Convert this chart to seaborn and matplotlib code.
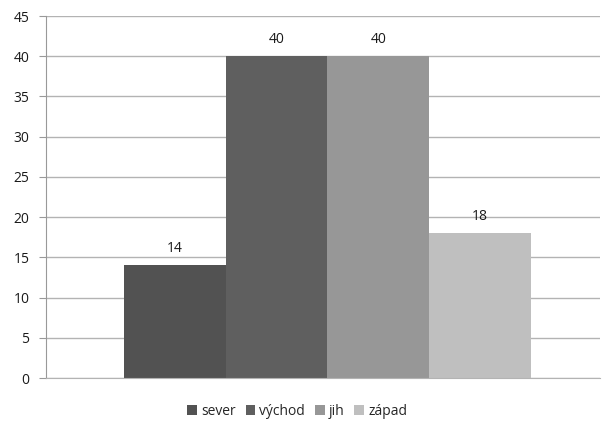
import pandas as pd
import matplotlib.pyplot as plt
import seaborn as sns
from matplotlib.patches import Patch

regions = ["sever", "východ", "jih", "západ"]
values = [14, 40, 40, 18]
colors = ["#525252", "#5f5f5f", "#979797", "#bfbfbf"]

df = pd.DataFrame({"group": [""] * len(regions), "region": regions, "value": values})

sns.set_style("white")
plt.rcParams['font.family'] = ['Open Sans', 'DejaVu Sans']

fig = plt.figure(figsize=(6.03, 4.23), dpi=100)
ax = fig.add_axes([46 / 603, 1 - 378 / 423, 554 / 603, 362 / 423])

sns.barplot(data=df, x="group", y="value", hue="region", hue_order=regions,
            palette=colors, width=0.735, dodge=True, linewidth=0, ax=ax, legend=False)

for cont in ax.containers:
    ax.bar_label(cont, padding=6.5, fontsize=10, color="#1a1a1a")

ax.set_ylim(0, 45)
ax.set_yticks(range(0, 46, 5))
ax.set_xlim(-0.508, 0.492)
ax.set_xticks([])
ax.set_xlabel("")
ax.set_ylabel("")
ax.yaxis.grid(True, color="#b3b3b3", linewidth=1)
ax.set_axisbelow(True)
for s in ["top", "right"]:
    ax.spines[s].set_visible(False)
ax.spines["left"].set_color("#999999")
ax.spines["bottom"].set_color("#b3b3b3")
ax.tick_params(axis="y", left=True, length=5, color="#999999", labelsize=10,
               labelcolor="#1a1a1a", pad=7)

handles = [Patch(facecolor=c, edgecolor="none") for c in colors]
fig.legend(handles, regions, loc="center", bbox_to_anchor=(0.493, 1 - 411 / 423),
           ncol=4, frameon=False, fontsize=10, handlelength=0.7, handleheight=0.7,
           handletextpad=0.3, columnspacing=0.7)

fig.savefig("out.png", dpi=100)
